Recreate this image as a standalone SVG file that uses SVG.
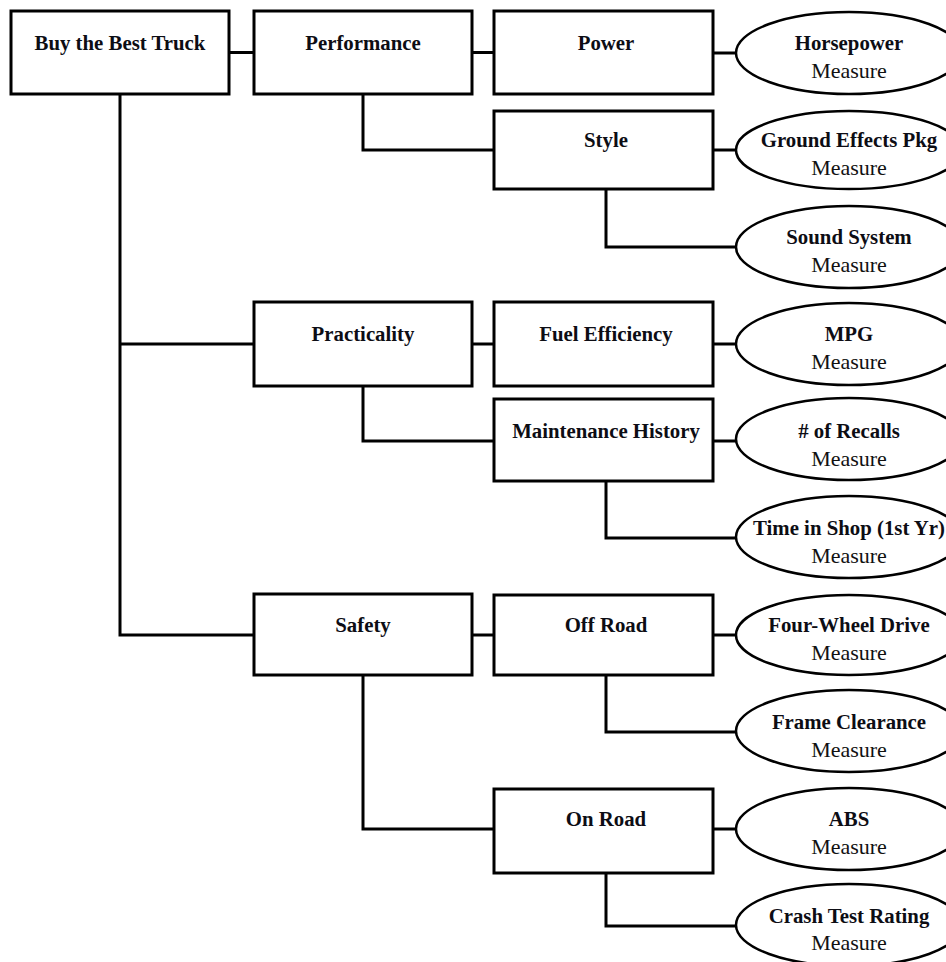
<svg xmlns="http://www.w3.org/2000/svg" width="946" height="962" viewBox="0 0 946 962">
  <style>
    .box { fill: #ffffff; stroke: #000000; stroke-width: 3; }
    .oval { fill: #ffffff; stroke: #000000; stroke-width: 2.5; }
    .wire { fill: none; stroke: #000000; stroke-width: 3; }
    .title { font-family: "Liberation Serif", "Times New Roman", serif; font-weight: bold; font-size: 20.8px; fill: #0d0d14; text-anchor: middle; }
    .sub { font-family: "Liberation Serif", "Times New Roman", serif; font-size: 22px; fill: #111111; text-anchor: middle; }
  </style>

  <rect width="946" height="962" fill="#ffffff"/>

  <!-- connectors -->
  <g id="connectors" class="wire">
    <path d="M229,52.5 H254"/>
    <path d="M472,52.5 H494"/>
    <path d="M713,53 H736"/>
    <path d="M363,94 V150 H494"/>
    <path d="M713,150 H736"/>
    <path d="M606,189 V247 H736"/>
    <path d="M120,94 V635 H254"/>
    <path d="M120,344 H254"/>
    <path d="M472,344 H494"/>
    <path d="M713,344 H736"/>
    <path d="M363,386 V441 H494"/>
    <path d="M713,441 H736"/>
    <path d="M606,481 V538 H736"/>
    <path d="M472,635 H494"/>
    <path d="M713,635 H736"/>
    <path d="M606,675 V732 H736"/>
    <path d="M363,675 V829 H494"/>
    <path d="M713,829 H736"/>
    <path d="M606,873 V926 H736"/>
  </g>

  <!-- goal and criteria boxes -->
  <g id="goal">
    <rect class="box" x="11" y="11" width="218" height="83"/>
    <text class="title" x="120" y="50">Buy the Best Truck</text>
  </g>
  <g id="performance">
    <rect class="box" x="254" y="11" width="218" height="83"/>
    <text class="title" x="363" y="50">Performance</text>
  </g>
  <g id="power">
    <rect class="box" x="494" y="11" width="219" height="83"/>
    <text class="title" x="606" y="50">Power</text>
  </g>
  <g id="style">
    <rect class="box" x="494" y="111" width="219" height="78"/>
    <text class="title" x="606" y="147">Style</text>
  </g>
  <g id="practicality">
    <rect class="box" x="254" y="302" width="218" height="84"/>
    <text class="title" x="363" y="341">Practicality</text>
  </g>
  <g id="fuel-efficiency">
    <rect class="box" x="494" y="302" width="219" height="84"/>
    <text class="title" x="606" y="341">Fuel Efficiency</text>
  </g>
  <g id="maintenance-history">
    <rect class="box" x="494" y="399" width="219" height="82"/>
    <text class="title" x="606" y="438">Maintenance History</text>
  </g>
  <g id="safety">
    <rect class="box" x="254" y="594" width="218" height="81"/>
    <text class="title" x="363" y="632">Safety</text>
  </g>
  <g id="off-road">
    <rect class="box" x="494" y="595" width="219" height="80"/>
    <text class="title" x="606" y="632">Off Road</text>
  </g>
  <g id="on-road">
    <rect class="box" x="494" y="789" width="219" height="84"/>
    <text class="title" x="606" y="826">On Road</text>
  </g>

  <!-- measures -->
  <g id="horsepower">
    <ellipse class="oval" cx="849" cy="53" rx="113" ry="41"/>
    <text class="title" x="849" y="50">Horsepower</text>
    <text class="sub" x="849" y="78">Measure</text>
  </g>
  <g id="ground-effects">
    <ellipse class="oval" cx="849" cy="150" rx="113" ry="39"/>
    <text class="title" x="849" y="147">Ground Effects Pkg</text>
    <text class="sub" x="849" y="175">Measure</text>
  </g>
  <g id="sound-system">
    <ellipse class="oval" cx="849" cy="247" rx="113" ry="41"/>
    <text class="title" x="849" y="244">Sound System</text>
    <text class="sub" x="849" y="272">Measure</text>
  </g>
  <g id="mpg">
    <ellipse class="oval" cx="849" cy="344" rx="113" ry="41"/>
    <text class="title" x="849" y="341">MPG</text>
    <text class="sub" x="849" y="369">Measure</text>
  </g>
  <g id="recalls">
    <ellipse class="oval" cx="849" cy="439" rx="113" ry="41"/>
    <text class="title" x="849" y="438"># of Recalls</text>
    <text class="sub" x="849" y="466">Measure</text>
  </g>
  <g id="time-in-shop">
    <ellipse class="oval" cx="849" cy="537" rx="113" ry="41"/>
    <text class="title" x="849" y="535">Time in Shop (1st Yr)</text>
    <text class="sub" x="849" y="563">Measure</text>
  </g>
  <g id="four-wheel-drive">
    <ellipse class="oval" cx="849" cy="635" rx="113" ry="40"/>
    <text class="title" x="849" y="632">Four-Wheel Drive</text>
    <text class="sub" x="849" y="660">Measure</text>
  </g>
  <g id="frame-clearance">
    <ellipse class="oval" cx="849" cy="731" rx="113" ry="41"/>
    <text class="title" x="849" y="729">Frame Clearance</text>
    <text class="sub" x="849" y="757">Measure</text>
  </g>
  <g id="abs">
    <ellipse class="oval" cx="849" cy="829" rx="113" ry="41"/>
    <text class="title" x="849" y="826">ABS</text>
    <text class="sub" x="849" y="854">Measure</text>
  </g>
  <g id="crash-test">
    <ellipse class="oval" cx="849" cy="925" rx="113" ry="41"/>
    <text class="title" x="849" y="923">Crash Test Rating</text>
    <text class="sub" x="849" y="950">Measure</text>
  </g>
</svg>
